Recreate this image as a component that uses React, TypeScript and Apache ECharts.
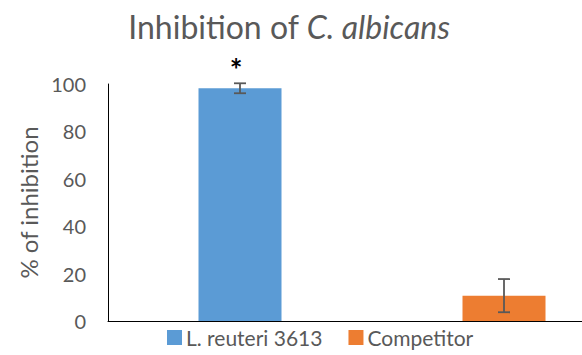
import React, { useEffect, useRef } from "react";
import * as echarts from "echarts";

const categories = ["L. reuteri 3613", "Competitor"];
const seriesNames = ["L. reuteri 3613", "Competitor"];
const means = [98.2, 10.7];
const errors = [2.1, 7.0];
const significance = ["*", ""];
const yTicks = [0, 20, 40, 60, 80, 100];
const colors = ["#5B9BD5", "#ED7D31"];

export default function App() {
  const ref = useRef<HTMLDivElement>(null);
  useEffect(() => {
    if (!ref.current) return;
    const chart = echarts.init(ref.current, null, { renderer: "svg" });
    const font = "Lato, 'Open Sans', sans-serif";
    const barSeries = seriesNames.map((name, i) => ({
      name,
      type: "bar",
      barWidth: 83,
      barGap: "-100%",
      itemStyle: { color: colors[i] },
      data: categories.map((_, j) =>
        j === i
          ? {
              value: means[j],
              label: {
                show: significance[j] !== "",
                position: "top",
                distance: 4,
                formatter: significance[j],
                color: "#000",
                fontSize: 30,
                fontWeight: "bold",
                fontFamily: font,
                offset: [-4, 0],
              },
            }
          : "-"
      ),
    }));
    const errData = categories.map((_, j) => [j, means[j] - errors[j], means[j] + errors[j]]);
    chart.setOption({
      animation: false,
      textStyle: { fontFamily: font },
      title: {
        text: "{n|Inhibition of }{i|C. albicans}",
        left: 284,
        textAlign: "center",
        top: 5,
        textStyle: {
          fontWeight: "normal",
          rich: {
            n: { fontSize: 32, color: "#595959", fontFamily: font, fontWeight: "normal" },
            i: { fontSize: 32, color: "#595959", fontFamily: font, fontStyle: "italic", fontWeight: "normal" },
          },
        },
      },
      legend: {
        data: seriesNames,
        left: 162,
        bottom: 2,
        itemWidth: 15,
        itemHeight: 15,
        itemGap: 26,
        icon: "rect",
        textStyle: { fontSize: 21, color: "#595959", fontFamily: font, padding: [0, 0, 0, -1] },
      },
      grid: { left: 108, right: -54, top: 84, bottom: 34, containLabel: false, outerBoundsMode: "none" },
      xAxis: {
        type: "category",
        data: categories,
        axisLine: { show: true, lineStyle: { color: "#000", width: 1 } },
        axisTick: { show: false },
        axisLabel: { show: false },
      },
      yAxis: {
        type: "value",
        min: yTicks[0],
        max: yTicks[yTicks.length - 1],
        interval: yTicks[1] - yTicks[0],
        name: "% of inhibition",
        nameLocation: "middle",
        nameGap: 68,
        nameTextStyle: { fontSize: 24, color: "#595959", fontFamily: font },
        axisLine: { show: true, lineStyle: { color: "#000", width: 1 } },
        axisTick: { show: false },
        splitLine: { show: false },
        axisLabel: { fontSize: 20, color: "#595959", margin: 22, fontFamily: font },
      },
      series: [
        ...barSeries,
        {
          type: "custom",
          name: "err",
          data: errData,
          z: 10,
          renderItem: (params: any, api: any) => {
            const x = api.value(0);
            const lo = api.coord([x, api.value(1)]);
            const hi = api.coord([x, api.value(2)]);
            const w = 6;
            const style = { stroke: "#595959", lineWidth: 1.8 };
            return {
              type: "group",
              children: [
                { type: "line", shape: { x1: lo[0], y1: lo[1], x2: hi[0], y2: hi[1] }, style },
                { type: "line", shape: { x1: lo[0] - w, y1: lo[1], x2: lo[0] + w, y2: lo[1] }, style },
                { type: "line", shape: { x1: hi[0] - w, y1: hi[1], x2: hi[0] + w, y2: hi[1] }, style },
              ],
            };
          },
        },
      ],
    });
    return () => chart.dispose();
  }, []);
  return <div ref={ref} style={{ width: 582, height: 355, position: "absolute", left: 0, top: 0 }} />;
}
